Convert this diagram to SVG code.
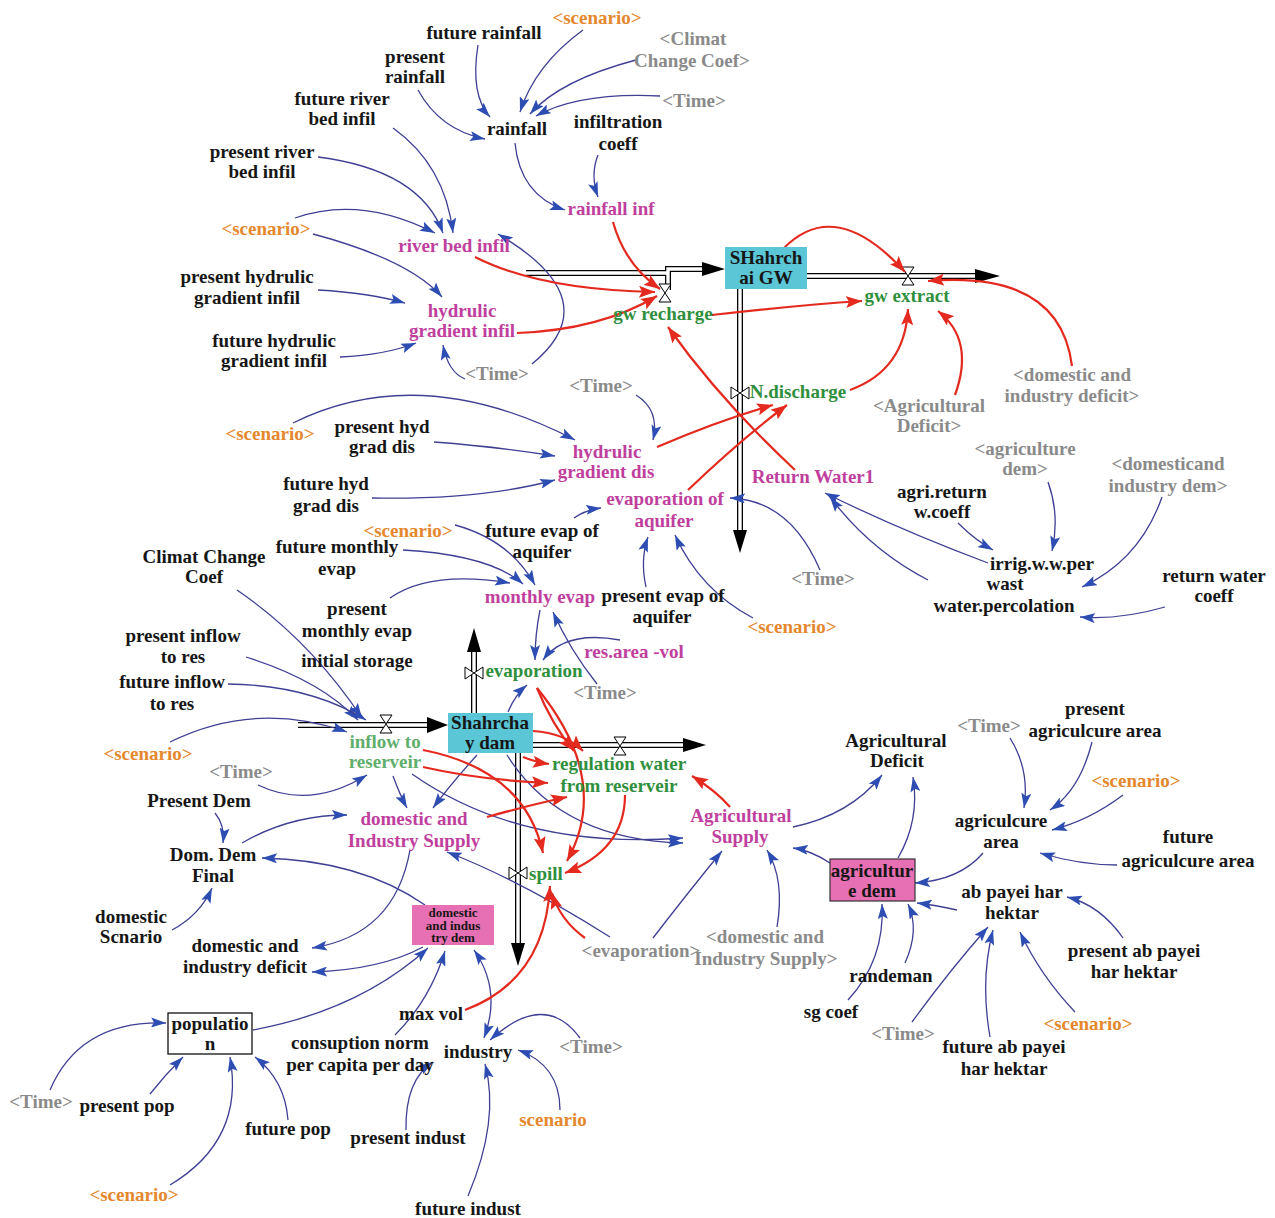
<svg xmlns="http://www.w3.org/2000/svg" width="1275" height="1218" viewBox="0 0 1275 1218">
<defs>
<style>
.t{font-family:"Liberation Serif","Times New Roman",serif;font-weight:bold;font-size:19px;text-anchor:middle}
.k{fill:#161616}.m{fill:#c03f9e}.g{fill:#2f8f3c}.lg{fill:#5fae6b}.o{fill:#e5882d}.s{fill:#8a8a8a}
.c{fill:none;stroke:#3f3f94;stroke-width:1.3}
.r{fill:none;stroke:#e42a1f;stroke-width:2.2}
.po{fill:none;stroke:#000;stroke-width:6}
.pi{fill:none;stroke:#fff;stroke-width:3.4}
.v{fill:#fff;stroke:#000;stroke-width:1}
.ah{fill:#000}
.sm{font-size:13px}
</style>
<marker id="ab" markerUnits="userSpaceOnUse" markerWidth="16" markerHeight="10" refX="15" refY="5" orient="auto"><path d="M0,0 L15,5 L0,10 L3,5 Z" fill="#2d4db3"/></marker>
<marker id="abs" markerUnits="userSpaceOnUse" markerWidth="16" markerHeight="10" refX="15" refY="5" orient="auto-start-reverse"><path d="M0,0 L15,5 L0,10 L3,5 Z" fill="#2d4db3"/></marker>
<marker id="ar" markerUnits="userSpaceOnUse" markerWidth="17" markerHeight="12" refX="16" refY="6" orient="auto"><path d="M0,0 L16,6 L0,12 L3,6 Z" fill="#e42a1f"/></marker>
</defs>
<rect width="1275" height="1218" fill="#fff"/>

<g id="pipes">
<path class="po" d="M526,273 H668 M668,290 V269 H704"/>
<path class="pi" d="M526,273 H668 M668,290 V269 H704"/>
<path class="po" d="M807,276 H980"/><path class="pi" d="M807,276 H980"/>
<path class="po" d="M740,289 V532"/><path class="pi" d="M740,289 V532"/>
<path class="po" d="M474,713 V650"/><path class="pi" d="M474,713 V650"/>
<path class="po" d="M298,725 H430"/><path class="pi" d="M298,725 H430"/>
<path class="po" d="M533,745 H686"/><path class="pi" d="M533,745 H686"/>
<path class="po" d="M518,753 V945"/><path class="pi" d="M518,753 V945"/>
<polygon class="ah" points="702,262 725,269 702,276"/>
<polygon class="ah" points="975,269 1000,276 975,283"/>
<polygon class="ah" points="733,530 740,553 747,530"/>
<polygon class="ah" points="467,652 474,628 481,652"/>
<polygon class="ah" points="427,717 448,725 427,733"/>
<polygon class="ah" points="683,738 706,745 683,752"/>
<polygon class="ah" points="511,943 518,966 525,943"/>
<path class="v" d="M659,284 H671 L659,302 H671 Z"/>
<path class="v" d="M902,267 H914 L902,285 H914 Z"/>
<path class="v" d="M731,387 V399 L749,387 V399 Z"/>
<path class="v" d="M465,667 V679 L483,667 V679 Z"/>
<path class="v" d="M380,715 H392 L380,733 H392 Z"/>
<path class="v" d="M614,737 H626 L614,755 H626 Z"/>
<path class="v" d="M509,867 V879 L527,867 V879 Z"/>
</g>

<g id="connectors">
<path class="c" marker-end="url(#ab)" d="M478,45 Q470,95 490,117"/>
<path class="c" marker-end="url(#ab)" d="M583,30 Q535,65 520,112"/>
<path class="c" marker-end="url(#ab)" d="M636,60 Q560,80 530,114"/>
<path class="c" marker-end="url(#ab)" d="M660,96 Q580,92 536,116"/>
<path class="c" marker-end="url(#ab)" d="M418,90 Q440,130 485,139"/>
<path class="c" marker-end="url(#ab)" d="M515,143 Q520,195 565,210"/>
<path class="c" marker-end="url(#ab)" d="M598,155 Q590,175 598,197"/>
<path class="c" marker-end="url(#ab)" d="M393,128 Q445,165 453,233"/>
<path class="c" marker-end="url(#ab)" d="M318,157 Q420,170 443,233"/>
<path class="c" marker-end="url(#ab)" d="M295,218 Q360,195 435,233"/>
<path class="c" marker-end="url(#ab)" d="M313,234 Q410,260 442,297"/>
<path class="c" marker-end="url(#ab)" d="M318,290 Q370,293 405,303"/>
<path class="c" marker-end="url(#ab)" d="M340,357 Q385,355 416,343"/>
<path class="c" marker-end="url(#ab)" d="M465,379 Q448,372 443,345"/>
<path class="c" marker-end="url(#ab)" d="M532,364 Q610,300 498,234"/>
<path class="c" marker-end="url(#ab)" d="M636,395 Q660,410 653,440"/>
<path class="c" marker-end="url(#ab)" d="M293,423 Q420,360 575,440"/>
<path class="c" marker-end="url(#ab)" d="M434,442 Q500,447 555,456"/>
<path class="c" marker-end="url(#ab)" d="M372,498 Q480,500 555,480"/>
<path class="c" marker-end="url(#ab)" d="M574,518 Q585,510 601,508"/>
<path class="c" marker-end="url(#ab)" d="M646,587 Q640,560 648,537"/>
<path class="c" marker-end="url(#ab)" d="M753,618 Q700,590 675,535"/>
<path class="c" marker-end="url(#ab)" d="M820,570 Q790,500 730,498"/>
<path class="c" marker-end="url(#ab)" d="M988,563 Q900,530 825,493"/>
<path class="c" marker-end="url(#ab)" d="M928,580 Q870,550 830,497"/>
<path class="c" marker-end="url(#ab)" d="M958,523 Q975,540 993,550"/>
<path class="c" marker-end="url(#ab)" d="M1048,482 Q1060,515 1052,551"/>
<path class="c" marker-end="url(#ab)" d="M1162,497 Q1140,560 1082,587"/>
<path class="c" marker-end="url(#ab)" d="M1165,607 Q1120,620 1080,617"/>
<path class="c" marker-end="url(#ab)" d="M455,525 Q510,540 535,585"/>
<path class="c" marker-end="url(#ab)" d="M403,550 Q490,555 523,584"/>
<path class="c" marker-end="url(#ab)" d="M390,598 Q430,570 510,583"/>
<path class="c" marker-end="url(#ab)" d="M540,610 Q535,635 535,660"/>
<path class="c" marker-end="url(#ab)" d="M620,640 Q565,630 543,660"/>
<path class="c" marker-end="url(#ab)" d="M597,684 Q570,650 553,612"/>
<path class="c" marker-end="url(#ab)" d="M508,712 Q515,695 527,685"/>
<path class="c" marker-end="url(#ab)" d="M237,590 Q310,640 362,718"/>
<path class="c" marker-end="url(#ab)" d="M246,657 Q320,680 358,720"/>
<path class="c" marker-end="url(#ab)" d="M228,684 Q310,685 366,720"/>
<path class="c" marker-end="url(#ab)" d="M170,742 Q255,700 347,732"/>
<path class="c" marker-end="url(#ab)" d="M258,785 Q310,810 367,775"/>
<path class="c" marker-end="url(#ab)" d="M393,776 Q400,795 407,808"/>
<path class="c" marker-end="url(#ab)" d="M477,755 Q450,785 433,808"/>
<path class="c" marker-end="url(#ab)" d="M412,774 Q520,850 683,838"/>
<path class="c" marker-end="url(#ab)" d="M507,755 Q560,840 683,843"/>
<path class="c" marker-end="url(#ab)" d="M610,937 Q520,880 447,852"/>
<path class="c" marker-end="url(#ab)" d="M653,938 Q690,890 722,851"/>
<path class="c" marker-end="url(#ab)" d="M777,927 Q785,880 767,850"/>
<path class="c" marker-end="url(#ab)" d="M830,863 Q810,850 793,848"/>
<path class="c" marker-end="url(#ab)" d="M793,827 Q850,815 882,775"/>
<path class="c" marker-end="url(#ab)" d="M898,858 Q920,820 913,777"/>
<path class="c" marker-end="url(#ab)" d="M215,813 Q225,825 223,843"/>
<path class="c" marker-end="url(#ab)" d="M172,930 Q200,915 212,888"/>
<path class="c" marker-end="url(#ab)" d="M242,843 Q290,815 347,815"/>
<path class="c" marker-end="url(#ab)" d="M425,905 Q360,860 262,858"/>
<path class="c" marker-end="url(#ab)" d="M410,850 Q395,935 312,948"/>
<path class="c" marker-end="url(#ab)" d="M423,947 Q380,970 312,972"/>
<path class="c" marker-end="url(#ab)" d="M253,1030 Q360,1010 428,948"/>
<path class="c" marker-end="url(#ab)" d="M395,1035 Q430,1000 445,951"/>
<path class="c" marker-start="url(#abs)" marker-end="url(#ab)" d="M484,1038 Q502,990 474,950"/>
<path class="c" marker-end="url(#ab)" d="M580,1038 Q545,990 490,1040"/>
<path class="c" marker-end="url(#ab)" d="M560,1110 Q560,1065 518,1050"/>
<path class="c" marker-end="url(#ab)" d="M406,1130 Q405,1080 433,1062"/>
<path class="c" marker-end="url(#ab)" d="M468,1196 Q500,1120 485,1064"/>
<path class="c" marker-end="url(#ab)" d="M50,1090 Q80,1020 166,1023"/>
<path class="c" marker-end="url(#ab)" d="M150,1094 Q165,1075 183,1057"/>
<path class="c" marker-end="url(#ab)" d="M170,1185 Q245,1140 230,1057"/>
<path class="c" marker-end="url(#ab)" d="M288,1120 Q285,1080 255,1057"/>
<path class="c" marker-end="url(#ab)" d="M1010,738 Q1030,770 1024,808"/>
<path class="c" marker-end="url(#ab)" d="M1092,742 Q1080,790 1050,810"/>
<path class="c" marker-end="url(#ab)" d="M1123,795 Q1090,820 1052,830"/>
<path class="c" marker-end="url(#ab)" d="M1117,865 Q1080,865 1040,853"/>
<path class="c" marker-end="url(#ab)" d="M983,853 Q960,880 915,883"/>
<path class="c" marker-end="url(#ab)" d="M957,910 Q935,905 917,903"/>
<path class="c" marker-end="url(#ab)" d="M905,963 Q920,930 908,904"/>
<path class="c" marker-end="url(#ab)" d="M848,1000 Q885,960 882,904"/>
<path class="c" marker-end="url(#ab)" d="M912,1022 Q950,970 988,927"/>
<path class="c" marker-end="url(#ab)" d="M990,1037 Q980,980 993,930"/>
<path class="c" marker-end="url(#ab)" d="M1075,1012 Q1040,975 1020,932"/>
<path class="c" marker-end="url(#ab)" d="M1123,938 Q1100,905 1067,897"/>

<path class="r" marker-end="url(#ar)" d="M475,257 Q540,290 655,292"/>
<path class="r" marker-end="url(#ar)" d="M517,333 Q600,330 657,296"/>
<path class="r" marker-end="url(#ar)" d="M613,222 Q625,265 660,289"/>
<path class="r" marker-end="url(#ar)" d="M795,470 Q720,400 668,327"/>
<path class="r" marker-end="url(#ar)" d="M712,315 Q800,305 862,301"/>
<path class="r" marker-end="url(#ar)" d="M783,249 Q835,195 905,272"/>
<path class="r" marker-end="url(#ar)" d="M1072,366 Q1060,270 928,281"/>
<path class="r" marker-end="url(#ar)" d="M955,395 Q975,340 938,311"/>
<path class="r" marker-end="url(#ar)" d="M850,390 Q905,370 908,309"/>
<path class="r" marker-end="url(#ar)" d="M657,447 Q720,420 773,405"/>
<path class="r" marker-end="url(#ar)" d="M688,490 Q740,440 787,405"/>
<path class="r" marker-end="url(#ar)" d="M537,688 Q612,780 567,861"/>
<path class="r" marker-end="url(#ar)" d="M537,688 Q552,725 574,751"/>
<path class="r" marker-end="url(#ar)" d="M533,731 Q565,733 583,751"/>
<path class="r" marker-end="url(#ar)" d="M523,757 Q535,762 549,764"/>
<path class="r" marker-end="url(#ar)" d="M423,750 Q525,770 543,853"/>
<path class="r" marker-end="url(#ar)" d="M423,767 Q480,780 548,783"/>
<path class="r" marker-end="url(#ar)" d="M487,817 Q530,805 567,797"/>
<path class="r" marker-end="url(#ar)" d="M625,795 Q625,850 565,873"/>
<path class="r" marker-end="url(#ar)" d="M730,807 Q715,790 692,776"/>
<path class="r" marker-end="url(#ar)" d="M465,1010 Q545,980 550,886"/>
<path class="r" marker-end="url(#ar)" d="M585,938 Q560,920 552,893"/>
</g>

<g id="n_future_rainfall"><text class="t k" x="484" y="39">future rainfall</text></g>
<g id="n_scenario1"><text class="t o" x="597" y="24">&lt;scenario&gt;</text></g>
<g id="n_present_rainfall"><text class="t k"><tspan x="415" y="63">present</tspan><tspan x="415" y="83">rainfall</tspan></text></g>
<g id="n_climat_shadow"><text class="t s"><tspan x="693" y="45">&lt;Climat</tspan><tspan x="692" y="67">Change Coef&gt;</tspan></text></g>
<g id="n_time1"><text class="t s" x="694" y="107">&lt;Time&gt;</text></g>
<g id="n_future_river"><text class="t k"><tspan x="342" y="105">future river</tspan><tspan x="342" y="125">bed infil</tspan></text></g>
<g id="n_rainfall"><text class="t k" x="517" y="135">rainfall</text></g>
<g id="n_infil_coeff"><text class="t k"><tspan x="618" y="128">infiltration</tspan><tspan x="618" y="150">coeff</tspan></text></g>
<g id="n_present_river"><text class="t k"><tspan x="262" y="158">present river</tspan><tspan x="262" y="178">bed infil</tspan></text></g>
<g id="n_rainfall_inf"><text class="t m" x="611" y="215">rainfall inf</text></g>
<g id="n_scenario2"><text class="t o" x="266" y="235">&lt;scenario&gt;</text></g>
<g id="n_river_bed_infil"><text class="t m" x="454" y="252">river bed infil</text></g>
<g id="n_present_hyd_infil"><text class="t k"><tspan x="247" y="283">present hydrulic</tspan><tspan x="247" y="304">gradient infil</tspan></text></g>
<g id="n_hyd_infil"><text class="t m"><tspan x="462" y="317">hydrulic</tspan><tspan x="462" y="337">gradient infil</tspan></text></g>
<g id="n_future_hyd_infil"><text class="t k"><tspan x="274" y="347">future hydrulic</tspan><tspan x="274" y="367">gradient infil</tspan></text></g>
<g id="n_time2"><text class="t s" x="497" y="380">&lt;Time&gt;</text></g>
<g id="n_gw_stock"><rect x="725" y="247" width="82" height="42" fill="#5bc6d6"/><text class="t k"><tspan x="766" y="264">SHahrch</tspan><tspan x="766" y="284">ai GW</tspan></text></g>
<g id="n_gw_recharge"><text class="t g" x="663" y="320">gw recharge</text></g>
<g id="n_gw_extract"><text class="t g" x="907" y="302">gw extract</text></g>
<g id="n_ndischarge"><text class="t g" x="798" y="398">N.discharge</text></g>
<g id="n_dom_def_shadow"><text class="t s"><tspan x="1072" y="381">&lt;domestic and</tspan><tspan x="1072" y="402">industry deficit&gt;</tspan></text></g>
<g id="n_agri_def_shadow"><text class="t s"><tspan x="929" y="412">&lt;Agricultural</tspan><tspan x="929" y="432">Deficit&gt;</tspan></text></g>
<g id="n_time3"><text class="t s" x="601" y="392">&lt;Time&gt;</text></g>
<g id="n_scenario3"><text class="t o" x="270" y="440">&lt;scenario&gt;</text></g>
<g id="n_present_hyd_dis"><text class="t k"><tspan x="382" y="433">present hyd</tspan><tspan x="382" y="453">grad dis</tspan></text></g>
<g id="n_hyd_dis"><text class="t m"><tspan x="607" y="458">hydrulic</tspan><tspan x="606" y="478">gradient dis</tspan></text></g>
<g id="n_future_hyd_dis"><text class="t k"><tspan x="326" y="490">future hyd</tspan><tspan x="326" y="512">grad dis</tspan></text></g>
<g id="n_return_water"><text class="t m" x="813" y="483">Return Water1</text></g>
<g id="n_agri_dem_shadow"><text class="t s"><tspan x="1025" y="455">&lt;agriculture</tspan><tspan x="1025" y="475">dem&gt;</tspan></text></g>
<g id="n_domind_dem_shadow"><text class="t s"><tspan x="1168" y="470">&lt;domesticand</tspan><tspan x="1168" y="492">industry dem&gt;</tspan></text></g>
<g id="n_agri_return"><text class="t k"><tspan x="942" y="498">agri.return</tspan><tspan x="942" y="518">w.coeff</tspan></text></g>
<g id="n_evap_aq"><text class="t m"><tspan x="665" y="505">evaporation of</tspan><tspan x="664" y="527">aquifer</tspan></text></g>
<g id="n_scenario4"><text class="t o" x="408" y="537">&lt;scenario&gt;</text></g>
<g id="n_future_evap_aq"><text class="t k"><tspan x="542" y="537">future evap of</tspan><tspan x="542" y="558">aquifer</tspan></text></g>
<g id="n_future_monthly"><text class="t k"><tspan x="337" y="553">future monthly</tspan><tspan x="337" y="575">evap</tspan></text></g>
<g id="n_climat"><text class="t k"><tspan x="204" y="563">Climat Change</tspan><tspan x="204" y="583">Coef</tspan></text></g>
<g id="n_irrig"><text class="t k"><tspan x="1042" y="570">irrig.w.w.per</tspan><tspan x="1005" y="590">wast</tspan><tspan x="1004" y="612">water.percolation</tspan></text></g>
<g id="n_time4"><text class="t s" x="823" y="585">&lt;Time&gt;</text></g>
<g id="n_return_coeff"><text class="t k"><tspan x="1214" y="582">return water</tspan><tspan x="1214" y="602">coeff</tspan></text></g>
<g id="n_monthly_evap"><text class="t m" x="540" y="603">monthly evap</text></g>
<g id="n_present_evap_aq"><text class="t k"><tspan x="663" y="602">present evap of</tspan><tspan x="662" y="623">aquifer</tspan></text></g>
<g id="n_present_monthly"><text class="t k"><tspan x="357" y="615">present</tspan><tspan x="357" y="637">monthly evap</tspan></text></g>
<g id="n_scenario5"><text class="t o" x="792" y="633">&lt;scenario&gt;</text></g>
<g id="n_present_inflow"><text class="t k"><tspan x="183" y="642">present inflow</tspan><tspan x="183" y="663">to res</tspan></text></g>
<g id="n_res_area"><text class="t m" x="634" y="658">res.area -vol</text></g>
<g id="n_initial_storage"><text class="t k" x="357" y="667">initial storage</text></g>
<g id="n_evaporation"><text class="t g" x="534" y="677">evaporation</text></g>
<g id="n_future_inflow"><text class="t k"><tspan x="172" y="688">future inflow</tspan><tspan x="172" y="710">to res</tspan></text></g>
<g id="n_time5"><text class="t s" x="605" y="699">&lt;Time&gt;</text></g>
<g id="n_dam"><rect x="448" y="713" width="85" height="40" fill="#5bc6d6"/><text class="t k"><tspan x="490" y="729">Shahrcha</tspan><tspan x="490" y="749">y dam</tspan></text></g>
<g id="n_inflow"><text class="t lg"><tspan x="385" y="748">inflow to</tspan><tspan x="385" y="768">reserveir</tspan></text></g>
<g id="n_scenario6"><text class="t o" x="148" y="760">&lt;scenario&gt;</text></g>
<g id="n_time6"><text class="t s" x="241" y="778">&lt;Time&gt;</text></g>
<g id="n_regulation"><text class="t g"><tspan x="619" y="770">regulation water</tspan><tspan x="619" y="792">from reserveir</tspan></text></g>
<g id="n_present_dem"><text class="t k" x="199" y="807">Present Dem</text></g>
<g id="n_dom_supply"><text class="t m"><tspan x="414" y="825">domestic and</tspan><tspan x="414" y="847">Industry Supply</tspan></text></g>
<g id="n_agri_supply"><text class="t m"><tspan x="741" y="822">Agricultural</tspan><tspan x="740" y="843">Supply</tspan></text></g>
<g id="n_dom_dem_final"><text class="t k"><tspan x="213" y="861">Dom. Dem</tspan><tspan x="213" y="882">Final</tspan></text></g>
<g id="n_spill"><text class="t g" x="546" y="880">spill</text></g>
<g id="n_domestic_scnario"><text class="t k"><tspan x="131" y="923">domestic</tspan><tspan x="131" y="943">Scnario</tspan></text></g>
<g id="n_dom_ind_dem"><rect x="412" y="905" width="82" height="40" fill="#e76fb3"/><text class="t k sm"><tspan x="453" y="917">domestic</tspan><tspan x="453" y="929.5">and indus</tspan><tspan x="453" y="942">try dem</tspan></text></g>
<g id="n_dom_ind_deficit"><text class="t k"><tspan x="245" y="952">domestic and</tspan><tspan x="245" y="973">industry deficit</tspan></text></g>
<g id="n_evaporation_shadow"><text class="t s" x="641" y="957">&lt;evaporation&gt;</text></g>
<g id="n_dom_supply_shadow"><text class="t s"><tspan x="765" y="943">&lt;domestic and</tspan><tspan x="766" y="965">Industry Supply&gt;</tspan></text></g>
<g id="n_agri_deficit"><text class="t k"><tspan x="896" y="747">Agricultural</tspan><tspan x="897" y="767">Deficit</tspan></text></g>
<g id="n_time7"><text class="t s" x="989" y="732">&lt;Time&gt;</text></g>
<g id="n_present_agri_area"><text class="t k"><tspan x="1095" y="715">present</tspan><tspan x="1095" y="737">agriculcure area</tspan></text></g>
<g id="n_scenario7"><text class="t o" x="1136" y="787">&lt;scenario&gt;</text></g>
<g id="n_agri_area"><text class="t k"><tspan x="1001" y="827">agriculcure</tspan><tspan x="1001" y="848">area</tspan></text></g>
<g id="n_future_agri_area"><text class="t k"><tspan x="1188" y="843">future</tspan><tspan x="1188" y="867">agriculcure area</tspan></text></g>
<g id="n_agri_dem"><rect x="830" y="859" width="85" height="42" fill="#e76fb3" stroke="#333" stroke-width="1.2"/><text class="t k"><tspan x="872" y="877">agricultur</tspan><tspan x="872" y="897">e dem</tspan></text></g>
<g id="n_ab_payei"><text class="t k"><tspan x="1012" y="898">ab payei har</tspan><tspan x="1012" y="919">hektar</tspan></text></g>
<g id="n_present_ab"><text class="t k"><tspan x="1134" y="957">present ab payei</tspan><tspan x="1134" y="978">har hektar</tspan></text></g>
<g id="n_randeman"><text class="t k" x="891" y="982">randeman</text></g>
<g id="n_sg_coef"><text class="t k" x="831" y="1018">sg coef</text></g>
<g id="n_time8"><text class="t s" x="903" y="1040">&lt;Time&gt;</text></g>
<g id="n_scenario8"><text class="t o" x="1088" y="1030">&lt;scenario&gt;</text></g>
<g id="n_future_ab"><text class="t k"><tspan x="1004" y="1053">future ab payei</tspan><tspan x="1004" y="1075">har hektar</tspan></text></g>
<g id="n_max_vol"><text class="t k" x="431" y="1020">max vol</text></g>
<g id="n_population"><rect x="168" y="1013" width="84" height="41" fill="#fff" stroke="#111" stroke-width="1.3"/><text class="t k"><tspan x="210" y="1030">populatio</tspan><tspan x="210" y="1050">n</tspan></text></g>
<g id="n_consumption"><text class="t k"><tspan x="360" y="1049">consuption norm</tspan><tspan x="360" y="1071">per capita per day</tspan></text></g>
<g id="n_industry"><text class="t k" x="478" y="1058">industry</text></g>
<g id="n_time9"><text class="t s" x="591" y="1053">&lt;Time&gt;</text></g>
<g id="n_time10"><text class="t s" x="41" y="1108">&lt;Time&gt;</text></g>
<g id="n_present_pop"><text class="t k" x="127" y="1112">present pop</text></g>
<g id="n_future_pop"><text class="t k" x="288" y="1135">future pop</text></g>
<g id="n_scenario9"><text class="t o" x="553" y="1126">scenario</text></g>
<g id="n_present_indust"><text class="t k" x="408" y="1144">present indust</text></g>
<g id="n_scenario10"><text class="t o" x="134" y="1201">&lt;scenario&gt;</text></g>
<g id="n_future_indust"><text class="t k" x="468" y="1215">future indust</text></g>
</svg>
